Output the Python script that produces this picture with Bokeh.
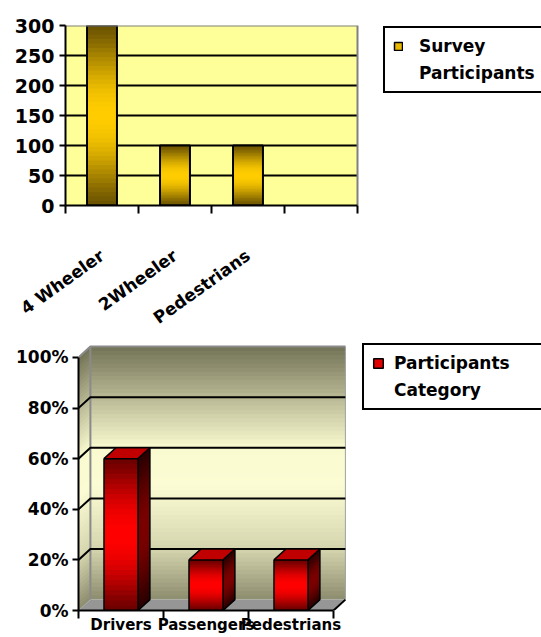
import math
from bokeh.plotting import figure
from bokeh.models import Range1d, FixedTicker, Legend, LegendItem, PrintfTickFormatter
from bokeh.embed import file_html
from bokeh.resources import INLINE

# ---------------- data ----------------
top_categories = ["4 Wheeler", "2Wheeler", "Pedestrians"]
top_values = [300, 100, 100]
top_series_lines = ["Survey", "Participants"]
top_yticks = [0, 50, 100, 150, 200, 250, 300]

bottom_categories = ["Drivers", "Passengers", "Pedestrians"]
bottom_values = [60, 20, 20]
bottom_series_lines = ["Participants", "Category"]
bottom_yticks = [0, 20, 40, 60, 80, 100]

FONT = "DejaVu Sans"


def rgb(h):
    h = h.lstrip("#")
    return tuple(int(h[i:i + 2], 16) for i in (0, 2, 4))


def mix(c1, c2, t):
    a, b = rgb(c1), rgb(c2)
    return "#%02x%02x%02x" % tuple(int(round(a[i] + (b[i] - a[i]) * t)) for i in range(3))


def stops_color(stops, t):
    for (t0, c0), (t1, c1) in zip(stops, stops[1:]):
        if t <= t1:
            return mix(c0, c1, (t - t0) / (t1 - t0) if t1 > t0 else 0)
    return stops[-1][1]


def make_legend(lines, renderer, location, gsize, pad, spacing, standoff, lwidth):
    items = [LegendItem(label=lines[0], renderers=[renderer])]
    items += [LegendItem(label=s, renderers=[]) for s in lines[1:]]
    leg = Legend(items=items, location=location)
    leg.label_text_font = FONT
    leg.label_text_font_style = "bold"
    leg.label_text_font_size = "17px"
    leg.label_text_color = "black"
    leg.label_standoff = standoff
    leg.label_width = lwidth
    leg.glyph_width = gsize
    leg.glyph_height = gsize
    leg.padding = pad
    leg.spacing = spacing
    leg.margin = 0
    leg.border_line_color = "black"
    leg.border_line_alpha = 1
    leg.border_line_width = 2
    leg.background_fill_color = "white"
    leg.background_fill_alpha = 1
    return leg


# ================= top chart =================
n_slots = len(top_categories) + 1
PX1 = 73.0                      # pixels per category slot
FW1 = 541 - 65                  # frame runs to the right edge so the legend is not clipped
ymax1 = max(top_yticks)
p1 = figure(width=541, height=340, x_range=Range1d(0, FW1 / PX1), y_range=Range1d(0, ymax1),
            output_backend="svg", toolbar_location=None,
            min_border_left=65, min_border_right=0, min_border_top=25, min_border_bottom=135)
p1.background_fill_color = "white"
p1.border_fill_color = "white"
p1.outline_line_color = None
p1.grid.visible = False

# plot area
p1.quad(left=[0], right=[n_slots], bottom=[0], top=[ymax1], fill_color="#ffff99", line_color=None)
g1 = top_yticks[1:-1]
p1.multi_line(xs=[[0, n_slots] for v in g1], ys=[[v, v] for v in g1], line_color="black", line_width=2)

BW1 = 0.41
N = 40
L, R, B, T, C = [], [], [], [], []
for i, v in enumerate(top_values):
    c = i + 0.5
    for k in range(N):
        t = (k + 0.5) / N
        L.append(c - BW1 / 2)
        R.append(c + BW1 / 2)
        B.append(v * k / N)
        T.append(min(v, v * (k + 1.6) / N))
        C.append(mix("#6b5300", "#ffcc00", math.sin(math.pi * t) ** 1.3))
p1.quad(left=L, right=R, bottom=B, top=T, fill_color=C, line_color=None)
p1.vbar(x=[i + 0.5 for i in range(len(top_values))], top=top_values, width=BW1,
        fill_color=None, line_color="black", line_width=2)

# plot-area border (gray top and right)
p1.line(x=[0, n_slots, n_slots], y=[ymax1, ymax1, 0], line_color="#808080", line_width=2)

leg_r1 = p1.vbar(x=[i + 0.5 for i in range(len(top_values))], top=top_values, width=BW1,
                 fill_color="#e8b800", line_color="black", line_width=1.5, visible=False)

ya = p1.yaxis[0]
ya.ticker = FixedTicker(ticks=top_yticks)
ya.axis_line_width = 2
ya.major_tick_line_width = 2
ya.major_tick_out = 6
ya.major_tick_in = 0
ya.minor_tick_line_color = None
ya.major_label_standoff = 5
ya.major_label_text_font = FONT
ya.major_label_text_font_style = "bold"
ya.major_label_text_font_size = "19px"
ya.major_label_text_color = "black"

xa = p1.xaxis[0]
xa.ticker = FixedTicker(ticks=[i + 0.5 for i in range(len(top_categories))],
                        minor_ticks=list(range(n_slots + 1)))
xa.major_label_overrides = {i + 0.5: name for i, name in enumerate(top_categories)}
xa.bounds = (0, n_slots)
xa.axis_line_width = 2
xa.major_tick_line_color = None
xa.major_tick_out = 8
xa.minor_tick_line_color = "black"
xa.minor_tick_line_width = 2
xa.minor_tick_in = 0
xa.minor_tick_out = 8
xa.major_label_orientation = 0.62
xa.major_label_standoff = 40
xa.major_label_text_font = FONT
xa.major_label_text_font_style = "bold"
xa.major_label_text_font_size = "17px"
xa.major_label_text_color = "black"

leg1 = make_legend(top_series_lines, leg_r1, (318, 112), 10, 8, 7, 16, 150)
p1.add_layout(leg1)

# ================= bottom chart =================
DX, DY = 0.14, 4.3
nb = len(bottom_categories)
PX2 = 85.0
FW2 = 541 - 78
top_v = max(bottom_yticks)
p2 = figure(width=541, height=297, x_range=Range1d(0, FW2 / PX2), y_range=Range1d(0, top_v + DY + 2.4),
            output_backend="svg", toolbar_location=None,
            min_border_left=78, min_border_right=0, min_border_top=0, min_border_bottom=27)
p2.background_fill_color = "white"
p2.border_fill_color = "white"
p2.outline_line_color = None
p2.grid.visible = False

wall_stops = [(0.0, "#8c8c6e"), (0.2, "#d4d4ae"), (0.45, "#fcfcd4"), (0.6, "#fafad0"),
              (0.8, "#b8b894"), (1.0, "#727256")]
NW = 60
xs, ys, cs = [], [], []
for k in range(NW):
    y0 = top_v * k / NW
    y1 = min(top_v, top_v * (k + 1.6) / NW)
    xs.append([0, DX, nb + DX, nb + DX, DX, 0])
    ys.append([y0, y0 + DY, y0 + DY, y1 + DY, y1 + DY, y1])
    cs.append(stops_color(wall_stops, (k + 0.5) / NW))
p2.patches(xs=xs, ys=ys, fill_color=cs, line_color=None)

# floor
p2.patch(x=[0, nb, nb + DX, DX], y=[0, 0, DY, DY], fill_color="#969696", line_color=None)

# wall edges
p2.line(x=[DX, DX], y=[DY, top_v + DY], line_color="#8a8a8a", line_width=2)
p2.line(x=[nb + DX, nb + DX], y=[DY, top_v + DY], line_color="#a0a0a0", line_width=1)
p2.line(x=[0, DX, nb + DX], y=[top_v, top_v + DY, top_v + DY], line_color="#8a8a8a", line_width=2)

# gridlines
gv = bottom_yticks[1:-1]
p2.multi_line(xs=[[0, DX, nb + DX] for v in gv], ys=[[v, v + DY, v + DY] for v in gv],
              line_color="black", line_width=2)

# floor front-right edge
p2.line(x=[nb, nb + DX], y=[0, DY], line_color="black", line_width=2)

# 3D bars
BW2 = 0.4
NB = 30
fl, fr, fb, ft, fc = [], [], [], [], []
sx, sy, sc = [], [], []
for i, v in enumerate(bottom_values):
    c = i + 0.5
    l, r = c - BW2 / 2, c + BW2 / 2
    for k in range(NB):
        t = (k + 0.5) / NB
        y0 = v * k / NB
        y1 = min(v, v * (k + 1.6) / NB)
        fl.append(l); fr.append(r); fb.append(y0); ft.append(y1)
        fc.append(mix("#6a0000", "#ff0000", math.sin(math.pi * t) ** 1.2))
        sx.append([r, r + DX, r + DX, r])
        sy.append([y0, y0 + DY, y1 + DY, y1])
        sc.append(mix("#2a0000", "#7a0000", math.sin(math.pi * t) ** 1.2))
p2.quad(left=fl, right=fr, bottom=fb, top=ft, fill_color=fc, line_color=None)
p2.patches(xs=sx, ys=sy, fill_color=sc, line_color=None)

ox, oy, tx, ty = [], [], [], []
for i, v in enumerate(bottom_values):
    c = i + 0.5
    l, r = c - BW2 / 2, c + BW2 / 2
    tx.append([l, r, r + DX, l + DX])
    ty.append([v, v, v + DY, v + DY])
    ox += [[l, r, r, l, l], [l, l + DX, r + DX, r + DX, r], [r, r + DX]]
    oy += [[0, 0, v, v, 0], [v, v + DY, v + DY, DY, 0], [v, v + DY]]
p2.patches(xs=tx, ys=ty, fill_color="#c00000", line_color=None)
p2.multi_line(xs=ox, ys=oy, line_color="black", line_width=1.5)

leg_r2 = p2.vbar(x=[i + 0.5 for i in range(nb)], top=bottom_values, width=BW2,
                 fill_color="#e00000", line_color="black", line_width=1.5, visible=False)

ya2 = p2.yaxis[0]
ya2.ticker = FixedTicker(ticks=bottom_yticks)
ya2.formatter = PrintfTickFormatter(format="%d%%")
ya2.bounds = (0, top_v)
ya2.axis_line_width = 2
ya2.major_tick_line_width = 2
ya2.major_tick_out = 6
ya2.major_tick_in = 0
ya2.minor_tick_line_color = None
ya2.major_label_standoff = 4
ya2.major_label_text_font = FONT
ya2.major_label_text_font_style = "bold"
ya2.major_label_text_font_size = "17px"
ya2.major_label_text_color = "black"

xa2 = p2.xaxis[0]
xa2.ticker = FixedTicker(ticks=[i + 0.5 for i in range(nb)], minor_ticks=list(range(nb + 1)))
xa2.major_label_overrides = {i + 0.5: name for i, name in enumerate(bottom_categories)}
xa2.bounds = (0, nb)
xa2.axis_line_width = 2
xa2.major_tick_line_color = None
xa2.major_tick_out = 8
xa2.minor_tick_line_color = "black"
xa2.minor_tick_line_width = 2
xa2.minor_tick_in = 0
xa2.minor_tick_out = 8
xa2.major_label_standoff = -3
xa2.major_label_text_font = FONT
xa2.major_label_text_font_style = "bold"
xa2.major_label_text_font_size = "15px"
xa2.major_label_text_color = "black"

leg2 = make_legend(bottom_series_lines, leg_r2, (284, 200), 12, 8, 7, 10, 160)
p2.add_layout(leg2)

open("out.html", "w").write(file_html([p1, p2], INLINE))
